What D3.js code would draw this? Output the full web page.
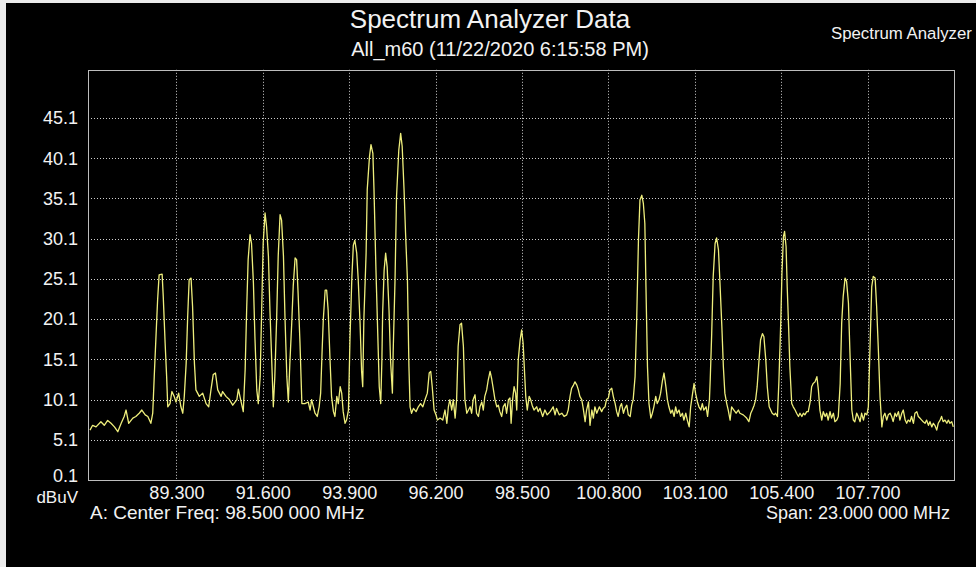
<!DOCTYPE html>
<html>
<head>
<meta charset="utf-8">
<script src="https://cdn.jsdelivr.net/npm/d3@7"></script>
<style>
  html, body { margin: 0; padding: 0; background: #000; overflow: hidden; }
  svg { display: block; }
  text { font-family: "Liberation Sans", Arial, sans-serif; fill: #f2f2f2; }
</style>
</head>
<body>
<svg id="chart" width="976" height="567"></svg>
<script>
// ---- chart content ----
const titleText = "Spectrum Analyzer Data";
const subtitleText = "All_m60 (11/22/2020 6:15:58 PM)";
const cornerText = "Spectrum Analyzer";
const centerText = "A: Center Freq: 98.500 000 MHz";
const spanText = "Span: 23.000 000 MHz";
const unitLabel = "dBuV";

// frequency span (MHz) and level range (dBuV)
const freqRange = [87, 110];
const levelRange = [0.1, 51.1];

// axis ticks
const freqTicks = [89.3, 91.6, 93.9, 96.2, 98.5, 100.8, 103.1, 105.4, 107.7];
const levelTicks = [0.1, 5.1, 10.1, 15.1, 20.1, 25.1, 30.1, 35.1, 40.1, 45.1];

// measured trace: [frequency MHz, level dBuV]
const trace = [
  [87.00,6.3],[87.07,6.9],[87.16,6.7],[87.29,7.35],[87.38,6.9],[87.47,7.5],[87.56,7.15],[87.65,6.7],
  [87.74,6.1],[87.83,7.15],[87.91,8.0],[87.96,8.8],[88.03,7.15],[88.14,7.8],[88.22,8.0],[88.31,8.4],
  [88.38,8.8],[88.47,8.2],[88.54,8.0],[88.62,7.15],[88.67,8.4],[88.71,12.95],[88.76,18.3],[88.80,22.5],
  [88.84,25.6],[88.92,25.7],[88.95,22.9],[89.00,17.1],[89.04,12.95],[89.07,9.2],[89.13,9.6],[89.18,11.1],
  [89.24,10.5],[89.29,9.8],[89.36,10.9],[89.42,9.2],[89.47,8.4],[89.51,10.5],[89.56,14.6],[89.60,20.4],
  [89.64,25.0],[89.69,25.2],[89.73,21.7],[89.78,14.6],[89.82,11.3],[89.91,10.5],[90.00,10.9],[90.09,9.6],
  [90.16,9.2],[90.22,11.3],[90.28,13.2],[90.34,13.4],[90.40,11.3],[90.49,10.5],[90.53,11.1],[90.62,10.5],
  [90.71,10.1],[90.80,9.4],[90.91,10.1],[90.95,11.4],[91.01,10.1],[91.08,8.6],[91.13,13.8],[91.17,21.2],
  [91.21,27.5],[91.26,30.6],[91.30,29.5],[91.35,24.6],[91.39,17.9],[91.44,11.3],[91.48,9.6],[91.53,12.95],
  [91.57,21.2],[91.61,29.5],[91.66,33.3],[91.70,31.6],[91.75,27.9],[91.79,21.2],[91.84,14.6],[91.88,9.2],
  [91.92,12.95],[91.97,20.4],[92.01,27.9],[92.06,33.1],[92.10,32.4],[92.15,27.9],[92.19,20.4],[92.24,12.95],
  [92.28,9.8],[92.32,14.6],[92.37,19.6],[92.41,24.2],[92.46,27.7],[92.50,27.5],[92.54,23.3],[92.59,17.1],
  [92.64,9.6],[92.72,9.6],[92.81,9.8],[92.86,8.8],[92.90,10.1],[92.99,8.4],[93.05,8.0],[93.10,9.2],
  [93.14,10.9],[93.18,16.3],[93.21,20.0],[93.26,23.7],[93.30,23.7],[93.34,21.2],[93.39,15.0],[93.43,10.5],
  [93.48,8.6],[93.52,8.0],[93.57,10.5],[93.61,9.6],[93.66,11.7],[93.70,10.9],[93.74,8.6],[93.79,7.15],
  [93.83,7.55],[93.88,8.8],[93.92,17.5],[93.97,25.2],[94.01,29.3],[94.05,29.9],[94.10,28.3],[94.14,25.0],
  [94.19,19.5],[94.23,13.6],[94.26,11.7],[94.29,20.0],[94.35,28.3],[94.38,36.2],[94.44,40.3],[94.48,41.8],
  [94.53,40.7],[94.56,36.2],[94.61,26.6],[94.66,18.3],[94.70,11.7],[94.74,9.6],[94.77,15.0],[94.79,20.8],
  [94.83,26.2],[94.87,28.3],[94.91,26.6],[94.96,21.2],[95.00,15.0],[95.05,10.9],[95.07,15.9],[95.12,25.0],
  [95.16,35.3],[95.22,41.1],[95.27,43.2],[95.31,41.6],[95.36,36.2],[95.40,30.8],[95.45,25.0],[95.49,14.2],
  [95.52,9.2],[95.56,8.4],[95.61,9.0],[95.68,8.6],[95.74,9.2],[95.80,9.6],[95.86,9.2],[95.92,10.1],
  [95.98,10.9],[96.03,13.4],[96.07,13.6],[96.11,11.7],[96.16,8.8],[96.21,8.2],[96.25,7.55],[96.32,7.8],
  [96.39,7.55],[96.45,8.8],[96.50,7.15],[96.54,9.2],[96.58,10.1],[96.63,8.8],[96.67,10.1],[96.72,7.8],
  [96.76,10.1],[96.80,16.7],[96.85,19.4],[96.89,19.6],[96.94,16.7],[96.98,10.1],[97.03,8.4],[97.12,9.2],
  [97.16,8.4],[97.20,10.1],[97.25,10.7],[97.29,8.4],[97.34,8.0],[97.38,9.2],[97.43,9.8],[97.47,8.8],
  [97.51,10.5],[97.56,11.3],[97.60,12.5],[97.65,13.6],[97.69,12.75],[97.74,11.3],[97.78,10.1],[97.83,9.2],
  [97.87,9.4],[97.91,8.6],[97.96,8.0],[98.00,9.2],[98.05,9.6],[98.09,8.4],[98.14,10.1],[98.18,10.3],
  [98.21,7.15],[98.25,10.1],[98.29,11.7],[98.33,10.9],[98.36,8.8],[98.40,15.0],[98.45,17.5],[98.49,18.75],
  [98.53,17.1],[98.56,14.2],[98.60,10.5],[98.64,8.8],[98.69,10.5],[98.73,10.1],[98.77,9.4],[98.82,8.8],
  [98.89,9.2],[98.93,8.6],[98.98,9.0],[99.05,8.0],[99.11,8.8],[99.17,8.2],[99.25,8.6],[99.33,9.2],
  [99.38,8.2],[99.42,9.0],[99.49,8.2],[99.56,8.4],[99.62,8.0],[99.69,8.2],[99.73,8.8],[99.78,10.5],
  [99.82,11.5],[99.87,11.9],[99.91,12.3],[99.96,11.9],[100.00,11.3],[100.04,10.5],[100.09,10.1],[100.13,9.0],
  [100.18,7.35],[100.22,8.8],[100.27,9.8],[100.31,6.9],[100.36,8.8],[100.40,7.8],[100.44,9.2],[100.49,8.4],
  [100.56,9.2],[100.62,8.6],[100.66,9.0],[100.71,9.2],[100.75,10.1],[100.80,10.3],[100.84,11.3],[100.89,11.5],
  [100.93,10.5],[100.98,9.6],[101.02,8.6],[101.06,8.0],[101.11,9.2],[101.15,9.6],[101.20,8.4],[101.24,9.0],
  [101.29,9.4],[101.33,8.2],[101.38,8.0],[101.42,9.4],[101.46,10.1],[101.51,12.95],[101.55,19.5],[101.60,29.95],
  [101.64,34.9],[101.69,35.5],[101.73,34.5],[101.77,32.0],[101.80,24.1],[101.84,14.2],[101.88,9.6],[101.93,7.8],
  [101.97,8.4],[102.01,9.2],[102.06,10.5],[102.10,9.6],[102.15,10.1],[102.19,10.9],[102.24,12.5],[102.28,13.4],
  [102.33,11.7],[102.37,10.1],[102.41,9.2],[102.46,8.4],[102.50,8.8],[102.55,8.0],[102.59,9.2],[102.63,8.4],
  [102.68,8.8],[102.72,8.0],[102.77,8.4],[102.81,7.55],[102.86,8.4],[102.90,7.55],[102.95,6.7],[102.99,9.2],
  [103.03,10.5],[103.08,12.1],[103.12,10.9],[103.17,9.8],[103.21,9.2],[103.26,8.8],[103.30,9.6],[103.34,8.8],
  [103.40,9.2],[103.44,8.0],[103.49,10.1],[103.51,12.5],[103.55,18.3],[103.59,25.4],[103.64,29.5],[103.68,30.2],
  [103.73,28.7],[103.77,24.6],[103.82,19.2],[103.86,14.2],[103.90,10.9],[103.95,9.6],[103.99,8.8],[104.04,7.55],
  [104.08,9.2],[104.14,8.8],[104.20,8.4],[104.26,8.8],[104.30,8.4],[104.39,8.2],[104.48,7.8],[104.54,7.35],
  [104.59,8.4],[104.63,8.8],[104.68,9.4],[104.72,10.1],[104.76,11.7],[104.81,15.0],[104.85,17.5],[104.90,18.3],
  [104.94,17.9],[104.99,15.0],[105.03,11.7],[105.08,9.2],[105.12,8.8],[105.16,8.4],[105.21,8.2],[105.25,8.4],
  [105.30,8.0],[105.34,12.5],[105.39,20.0],[105.42,25.8],[105.46,30.4],[105.49,31.0],[105.53,29.1],[105.56,24.1],
  [105.60,18.75],[105.63,14.2],[105.68,9.6],[105.72,9.2],[105.77,8.8],[105.81,8.4],[105.86,8.0],[105.90,8.4],
  [105.95,8.0],[105.99,8.4],[106.03,8.2],[106.08,8.6],[106.12,8.6],[106.17,9.8],[106.21,11.7],[106.25,12.1],
  [106.30,12.3],[106.35,12.95],[106.39,11.3],[106.43,8.8],[106.48,7.55],[106.52,8.6],[106.57,8.0],[106.61,8.4],
  [106.65,7.55],[106.70,8.6],[106.74,7.8],[106.79,8.4],[106.83,7.35],[106.88,7.55],[106.92,8.0],[106.97,12.1],
  [107.01,19.6],[107.05,22.9],[107.10,25.2],[107.14,24.8],[107.19,22.1],[107.23,15.9],[107.28,8.8],[107.32,7.55],
  [107.36,7.35],[107.41,8.4],[107.45,8.0],[107.50,7.35],[107.54,8.4],[107.59,7.55],[107.63,8.4],[107.68,8.2],
  [107.72,9.2],[107.76,15.9],[107.81,24.1],[107.85,25.4],[107.90,25.2],[107.94,21.7],[107.99,15.9],[108.03,10.5],
  [108.08,6.7],[108.12,8.0],[108.16,8.4],[108.21,7.55],[108.25,8.2],[108.30,8.4],[108.34,8.0],[108.38,7.35],
  [108.43,8.4],[108.47,8.0],[108.52,8.6],[108.56,7.55],[108.61,8.4],[108.65,8.8],[108.70,7.55],[108.74,7.15],
  [108.78,7.55],[108.83,7.35],[108.87,8.0],[108.92,7.15],[108.96,8.4],[109.01,8.6],[109.05,8.0],[109.09,7.8],
  [109.14,7.55],[109.18,7.35],[109.23,7.15],[109.27,7.55],[109.32,6.9],[109.36,7.35],[109.41,6.7],[109.45,7.15],
  [109.49,6.9],[109.54,6.3],[109.58,7.15],[109.63,7.55],[109.67,8.0],[109.71,7.35],[109.76,7.55],[109.81,7.15],
  [109.85,7.55],[109.89,7.15],[109.94,7.35],[109.98,6.7]
];

// ---- layout ----
const W = 976, H = 567;
const frame = { left: 88, right: 954, top: 69.8, bottom: 480 };

const svg = d3.select("#chart");

// window background with a light edge on the top and left
svg.append("rect").attr("width", W).attr("height", H).attr("fill", "#ececec");
svg.append("rect").attr("x", 6).attr("y", 3).attr("width", W - 6).attr("height", H - 3).attr("fill", "#000");

const x = d3.scaleLinear().domain(freqRange).range([90, frame.right]);
const y = d3.scaleLinear().domain(levelRange).range([frame.bottom, frame.top]);

// dotted grid
const grid = svg.append("g").attr("stroke", "#cfcfcf").attr("stroke-width", 1)
  .attr("stroke-dasharray", "1,2");
grid.selectAll("line.h").data(levelTicks.filter(d => d > levelRange[0]))
  .join("line").attr("class", "h")
  .attr("x1", frame.left).attr("x2", frame.right)
  .attr("y1", d => Math.round(y(d)) + 0.5).attr("y2", d => Math.round(y(d)) + 0.5);
grid.selectAll("line.v").data(freqTicks)
  .join("line").attr("class", "v")
  .attr("x1", d => Math.round(x(d)) + 0.5).attr("x2", d => Math.round(x(d)) + 0.5)
  .attr("y1", frame.top).attr("y2", frame.bottom);

// plot frame
svg.append("rect")
  .attr("x", frame.left + 0.5).attr("y", Math.round(frame.top) + 0.5)
  .attr("width", frame.right - frame.left).attr("height", frame.bottom - Math.round(frame.top))
  .attr("fill", "none").attr("stroke", "#bdbdbd").attr("stroke-width", 1);

// trace
svg.append("clipPath").attr("id", "plotClip").append("rect")
  .attr("x", frame.left).attr("y", frame.top)
  .attr("width", frame.right - frame.left).attr("height", frame.bottom - frame.top);

const line = d3.line().x(d => x(d[0])).y(d => y(d[1]));
svg.append("path")
  .datum(trace)
  .attr("clip-path", "url(#plotClip)")
  .attr("d", line)
  .attr("fill", "none")
  .attr("stroke", "#eeee7c")
  .attr("stroke-width", 1.3)
  .attr("stroke-linejoin", "round");

// axes (labels only)
const yAxis = d3.axisLeft(y).tickValues(levelTicks).tickFormat(d3.format(".1f"))
  .tickSize(0).tickPadding(10);
const gy = svg.append("g").attr("transform", `translate(${frame.left},0)`).call(yAxis);
gy.select(".domain").remove();
gy.selectAll("text").attr("fill", "#f2f2f2").style("font-size", "18px")
  .style("font-family", "'Liberation Sans', Arial, sans-serif");
// lift the bottom label a little so it sits above the unit label
gy.selectAll(".tick").filter(d => d === levelRange[0]).select("text").attr("dy", "0.1em");

const xAxis = d3.axisBottom(x).tickValues(freqTicks).tickFormat(d3.format(".3f"))
  .tickSize(0).tickPadding(6);
const gx = svg.append("g").attr("transform", `translate(0,${frame.bottom})`).call(xAxis);
gx.select(".domain").remove();
gx.selectAll("text").attr("fill", "#f2f2f2").style("font-size", "18px")
  .style("font-family", "'Liberation Sans', Arial, sans-serif");

// unit label under the level axis
svg.append("text").attr("x", frame.left - 10).attr("y", 503)
  .attr("text-anchor", "end").style("font-size", "17px").text(unitLabel);

// titles
svg.append("text").attr("x", 490).attr("y", 28).attr("text-anchor", "middle")
  .style("font-size", "26px").text(titleText);
svg.append("text").attr("x", 500).attr("y", 56).attr("text-anchor", "middle")
  .style("font-size", "20px").text(subtitleText);
svg.append("text").attr("x", 831).attr("y", 39)
  .style("font-size", "16.8px").text(cornerText);

// footer info
svg.append("text").attr("x", 90).attr("y", 519)
  .style("font-size", "19px").text(centerText);
svg.append("text").attr("x", 950).attr("y", 519).attr("text-anchor", "end")
  .style("font-size", "18px").text(spanText);
</script>
</body>
</html>
